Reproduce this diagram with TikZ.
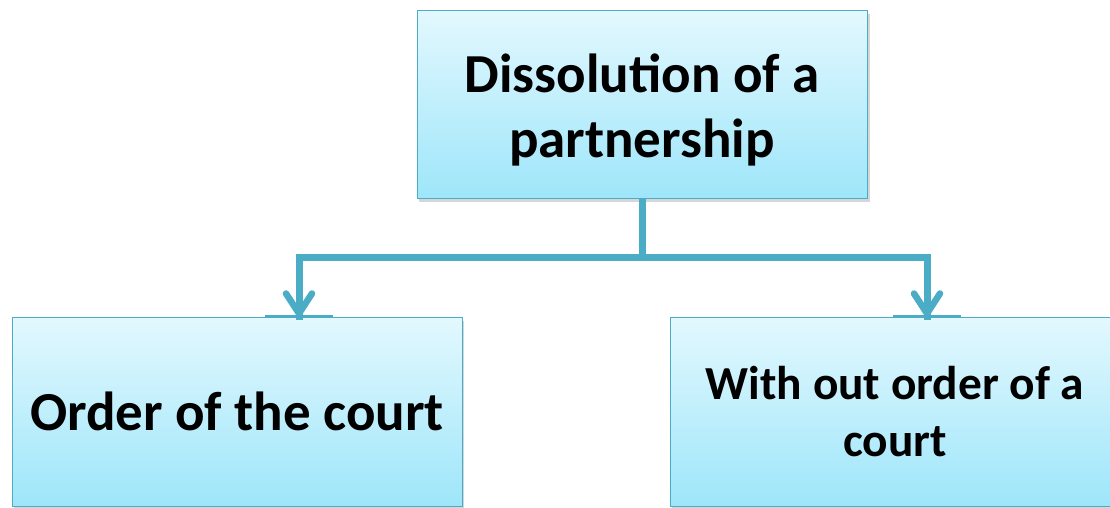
\documentclass[tikz,border=0pt]{standalone}
\usepackage{fontspec}
\setmainfont{Carlito}
\usetikzlibrary{calc}
\definecolor{lineteal}{HTML}{4BACC6}
\definecolor{boxtop}{HTML}{E3F8FE}
\definecolor{boxbot}{HTML}{9EE6FA}
\tikzset{
  box/.style={draw=lineteal, line width=1pt, top color=boxtop, bottom color=boxbot,
    minimum width=450pt, inner sep=0pt},
  boxtext/.style={align=center, inner sep=0pt},
  conn/.style={draw=lineteal, line width=7pt},
  chev/.style={draw=lineteal, line width=6.5pt, line cap=round, line join=round},
  hilite/.style={draw=lineteal, line width=3pt},
  shadowbox/.style={fill=black!16, draw=none}
}
\begin{document}
\begin{tikzpicture}[x=1pt,y=-1pt]
\useasboundingbox (0,0) rectangle (1110,507);
\clip (0,0) rectangle (1110,507);
\fill[white] (0,0) rectangle (1110,507);
% shadows
\fill[shadowbox] (419,14) rectangle (870,202);
\fill[shadowbox] (14,321) rectangle (464,512);
\fill[shadowbox] (672,321) rectangle (1122,512);
% boxes
\node[box, minimum height=188pt] (top) at (642,104) {};
\node[boxtext, font=\bfseries\fontsize{55}{65}\selectfont] (toptext) at ($(top.center)+(0,6)$) {Dissolution of a\\partnership};
\node[box, minimum height=189pt] (left) at (237,411.5) {};
\node[boxtext, font=\bfseries\fontsize{55}{60}\selectfont] (lefttext) at (left.center) {Order of the court};
\node[box, minimum height=189pt] (right) at (895,411.5) {};
\node[boxtext, font=\bfseries\fontsize{47.4}{57}\selectfont] (righttext) at (right.center) {With out order of a\\court};
% connectors
\coordinate (jn) at ($(top.south)+(0,59)$);
\coordinate (la) at ($(left.north)+(62,0)$);
\coordinate (ra) at ($(right.north)+(32,0)$);
\draw[conn] (top.south) -- (jn) -| ([yshift=-3pt]la);
\draw[conn] (jn) -| ([yshift=-3pt]ra);
\draw[chev] ($(la)+(-13,-23)$) -- ($(la)+(0,-3)$) -- ($(la)+(13,-23)$);
\draw[chev] ($(ra)+(-13,-23)$) -- ($(ra)+(0,-3)$) -- ($(ra)+(13,-23)$);
\draw[hilite] ([xshift=-34pt]la) -- ([xshift=34pt]la);
\draw[hilite] ([xshift=-34pt]ra) -- ([xshift=34pt]ra);
\end{tikzpicture}
\end{document}
